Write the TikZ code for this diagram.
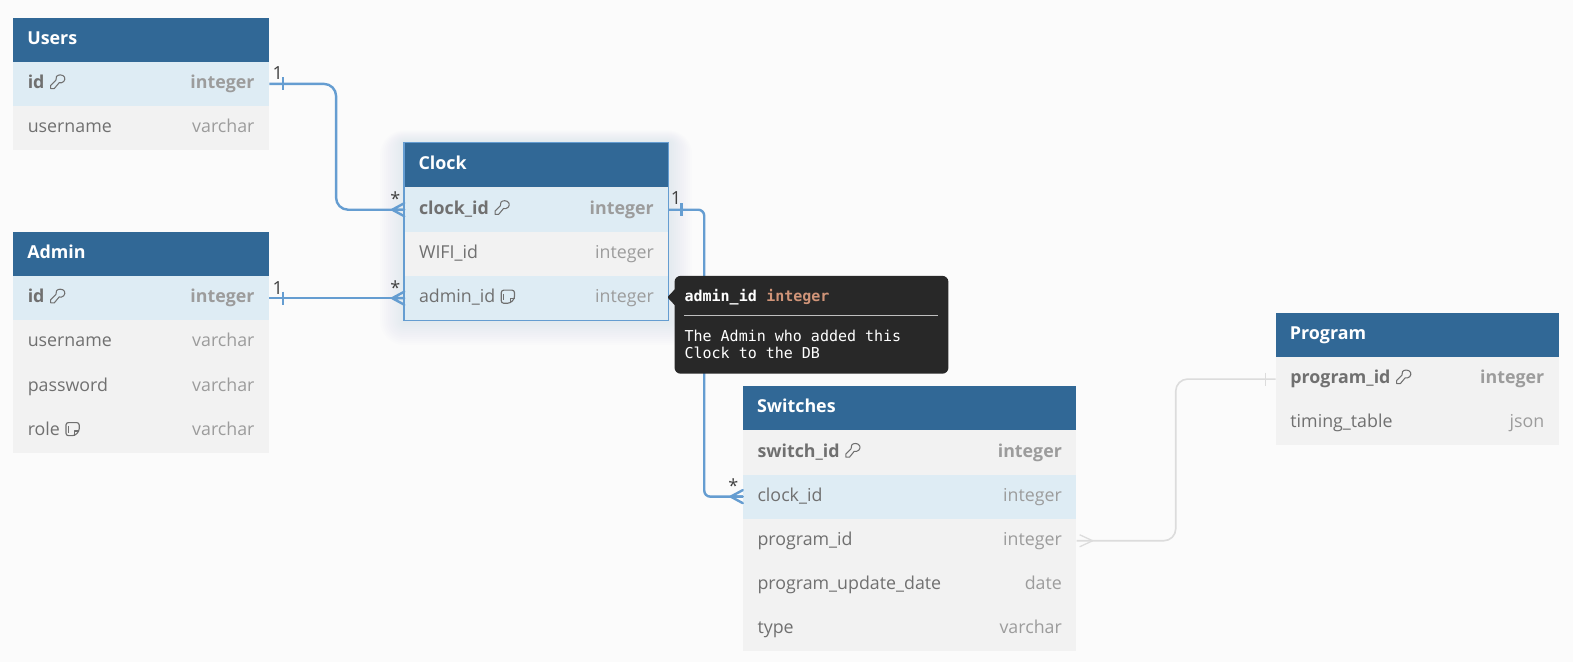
\documentclass[tikz,border=0pt]{standalone}
\usepackage{fontspec}
\setmainfont{Open Sans}
\newfontfamily\tipfont{DejaVu Sans Mono}
\definecolor{pagebg}{HTML}{FBFBFB}
\definecolor{headblue}{HTML}{316896}
\definecolor{rowgrey}{HTML}{F2F2F2}
\definecolor{rowhl}{HTML}{DEECF4}
\definecolor{nametxt}{HTML}{707070}
\definecolor{typetxt}{HTML}{9C9C9C}
\definecolor{linkblue}{HTML}{659DD1}
\definecolor{linkgrey}{HTML}{DCDCDC}
\definecolor{tipbg}{HTML}{282828}
\definecolor{tiptype}{HTML}{D09478}
\tikzset{
  x=1pt,y=-1pt,
  headcell/.style={fill=headblue,draw=none,inner sep=0pt,minimum height=44.2pt,anchor=north west},
  rowcell/.style={draw=none,inner sep=0pt,minimum height=44.1pt,anchor=north west},
  headtext/.style={text=white,inner sep=0pt,anchor=base west,font=\fontsize{17.8}{20}\selectfont\bfseries},
  nametext/.style={text=nametxt,inner sep=0pt,anchor=base west},
  typetext/.style={text=typetxt,inner sep=0pt,anchor=base east},
  plainrow/.style={font=\fontsize{17.75}{20}\selectfont},
  boldrow/.style={font=\fontsize{17.75}{20}\selectfont\bfseries},
  link/.style={draw=linkblue,line width=2.4pt,rounded corners=12pt},
  linksmall/.style={draw=linkblue,line width=2.4pt,rounded corners=6pt},
  linkpale/.style={draw=linkgrey,line width=1.6pt,rounded corners=12pt},
  card/.style={text=black!75,inner sep=0pt,font=\fontsize{18}{20}\selectfont},
  tipmono/.style={inner sep=0pt,anchor=base west,font=\fontsize{14.95}{18}\selectfont\tipfont},
  keyicon/.pic={
    \draw[nametxt,line width=1.05pt,line join=round]
      (10.5,-7.6) .. controls (14.8,-7.6) and (16.4,-3.6) .. (14,-1)
      .. controls (12.6,.4) and (10.8,.6) .. (9.4,.2)
      -- (4.6,6) -- (1,6) -- (1,2.8) -- (6.2,-2.4)
      .. controls (5.4,-5.2) and (7.2,-7.6) .. (10.5,-7.6) -- cycle;
  },
  noteicon/.pic={
    \draw[nametxt,line width=1.15pt,line join=round,rounded corners=2.4pt]
      (.8,-6.6) -- (14,-6.6) -- (14,1.8) -- (9.6,6.4) -- (.8,6.4) -- cycle;
    \draw[nametxt,line width=1.1pt,line join=round]
      (14,1.8) -- (9.6,1.8) -- (9.6,6.4);
    \draw[nametxt,line width=1pt] (3.4,-3) -- (3.4,3.6);
  },
}
% id, left x, top y, width, title
\newcommand{\tabhead}[5]{%
  \node[headcell,minimum width=#4pt] (#1) at (#2,#3) {};
  \node[headtext] (#1T) at ([xshift=14pt,yshift=-4.5pt]#1.west) {#5};
}
% id, left x, top y, width, fill, row style, name, type
\newcommand{\tabrow}[8]{%
  \node[rowcell,fill=#5,minimum width=#4pt] (#1) at (#2,#3) {};
  \node[nametext,#6] (#1N) at ([xshift=14.5pt,yshift=-4.6pt]#1.west) {#7};
  \node[typetext,#6] (#1Y) at ([xshift=-14.5pt,yshift=-4.6pt]#1.east) {#8};
}
% crow's foot at the west side of a node
\newcommand{\crowwest}[2]{%
  \draw[#2,line cap=round]
    ([xshift=-12pt]#1.west) -- ([yshift=6.5pt]#1.west)
    ([xshift=-12pt]#1.west) -- (#1.west)
    ([xshift=-12pt]#1.west) -- ([yshift=-6.5pt]#1.west);
}
\begin{document}
\begin{tikzpicture}
\useasboundingbox (0,0) rectangle (1568,659.9);
\fill[pagebg] (0,0) rectangle (1568,659.9);

% glow round the selected table
\foreach \g in {2,4,...,24}{
  \fill[linkblue,opacity=.011,rounded corners=\g pt]
    (403-\g,142-\g/2) rectangle (666+\g,320+\g);
}

% Users
\tabhead{users}{13}{18}{255}{Users}
\tabrow{usersId}{13}{61.4}{255}{rowhl}{boldrow}{id}{integer}
\tabrow{usersName}{13}{105.5}{255}{rowgrey}{plainrow}{username}{varchar}
\pic at ([xshift=5pt,yshift=6pt]usersIdN.base east) {keyicon};

% Admin
\tabhead{admin}{13}{231}{255}{Admin}
\tabrow{adminId}{13}{275}{255}{rowhl}{boldrow}{id}{integer}
\tabrow{adminName}{13}{319}{255}{rowgrey}{plainrow}{username}{varchar}
\tabrow{adminPass}{13}{363}{255}{rowgrey}{plainrow}{password}{varchar}
\tabrow{adminRole}{13}{407}{255}{rowgrey}{plainrow}{role}{varchar}
\pic at ([xshift=5pt,yshift=6pt]adminIdN.base east) {keyicon};
\pic at ([xshift=5pt,yshift=6pt]adminRoleN.base east) {noteicon};

% Clock
\tabhead{clock}{403}{142}{263}{Clock}
\tabrow{clockId}{403}{186.8}{263}{rowhl}{boldrow}{clock\_id}{integer}
\tabrow{clockWifi}{403}{231}{263}{rowgrey}{plainrow}{WIFI\_id}{integer}
\tabrow{clockAdmin}{403}{275}{263}{rowhl}{plainrow}{admin\_id}{integer}
\pic at ([xshift=5pt,yshift=6pt]clockIdN.base east) {keyicon};
\pic at ([xshift=5pt,yshift=6pt]clockAdminN.base east) {noteicon};
\draw[linkblue,line width=1.8pt] (clock.north west) rectangle (clockAdmin.south east);

% Switches
\tabhead{sw}{740.4}{384.6}{332.4}{Switches}
\tabrow{swId}{740.4}{428.8}{332.4}{rowgrey}{boldrow}{switch\_id}{integer}
\tabrow{swClock}{740.4}{472.8}{332.4}{rowhl}{plainrow}{clock\_id}{integer}
\tabrow{swProg}{740.4}{516.8}{332.4}{rowgrey}{plainrow}{program\_id}{integer}
\tabrow{swDate}{740.4}{560.8}{332.4}{rowgrey}{plainrow}{program\_update\_date}{date}
\tabrow{swType}{740.4}{604.8}{332.4}{rowgrey}{plainrow}{type}{varchar}
\pic at ([xshift=5pt,yshift=6pt]swIdN.base east) {keyicon};

% Program
\tabhead{prog}{1271.6}{312}{282}{Program}
\tabrow{progId}{1271.6}{355.6}{282}{rowgrey}{boldrow}{program\_id}{integer}
\tabrow{progTable}{1271.6}{399.6}{282}{rowgrey}{plainrow}{timing\_table}{json}
\pic at ([xshift=5pt,yshift=6pt]progIdN.base east) {keyicon};

% bends of the connectors
\coordinate (bendA) at (335,84);
\coordinate (bendB) at (702,208);
\coordinate (bendC) at (1172,378);

% Users - Clock
\draw[link] (usersId.east) -- (usersId.east -| bendA) -- (clockId.west -| bendA) -- (clockId.west);
\draw[linkblue,line width=2.2pt] ([xshift=14pt,yshift=6.5pt]usersId.east) -- ([xshift=14pt,yshift=-6.5pt]usersId.east);
\crowwest{clockId}{linkblue,line width=2.4pt}
\node[card] (cardA) at (277,73) {1};
\node[card] (cardB) at (394,198.5) {*};

% Admin - Clock
\draw[link] (adminId.east) -- (clockAdmin.west);
\draw[linkblue,line width=2.2pt] ([xshift=14pt,yshift=6.5pt]adminId.east) -- ([xshift=14pt,yshift=-6.5pt]adminId.east);
\crowwest{clockAdmin}{linkblue,line width=2.4pt}
\node[card] (cardC) at (277,287) {1};
\node[card] (cardD) at (394,287) {*};

% Clock - Switches
\draw[linksmall] (clockId.east) -- (clockId.east -| bendB) -- (swClock.west -| bendB) -- (swClock.west);
\draw[linkblue,line width=2.2pt] ([xshift=13pt,yshift=6.5pt]clockId.east) -- ([xshift=13pt,yshift=-6.5pt]clockId.east);
\crowwest{swClock}{linkblue,line width=2.4pt}
\node[card] (cardE) at (674,197) {1};
\node[card] (cardF) at (731,484) {*};

% Switches - Program
\coordinate (swFoot) at ([xshift=3pt]swProg.east);
\draw[linkpale] (swProg.east) -- (swProg.east -| bendC) -- (progId.west -| bendC) -- (progId.west);
\draw[linkgrey,line width=1.3pt]
  ([xshift=13pt]swFoot) -- ([yshift=6pt]swFoot)
  ([xshift=13pt]swFoot) -- ([yshift=-6pt]swFoot);
\draw[linkgrey,line width=1.3pt] ([xshift=-10pt,yshift=6.5pt]progId.west) -- ([xshift=-10pt,yshift=-6.5pt]progId.west);

% Tooltip
\node[fill=tipbg,rounded corners=6pt,inner sep=0pt,minimum width=273pt,minimum height=97.5pt,anchor=north west] (tip) at (672.2,274.8) {};
\fill[tipbg,rounded corners=1pt] ([xshift=1pt,yshift=-13pt]tip.north west) -- ([xshift=-7pt,yshift=-21.5pt]tip.north west) -- ([xshift=1pt,yshift=-30pt]tip.north west) -- cycle;
\node[tipmono,text=white,font=\fontsize{14.95}{18}\selectfont\tipfont\bfseries] (tipName) at ([xshift=10pt,yshift=-25.5pt]tip.north west) {admin\_id};
\node[tipmono,text=tiptype,font=\fontsize{14.95}{18}\selectfont\tipfont\bfseries] (tipType) at ([xshift=9pt]tipName.base east) {integer};
\coordinate (ruleL) at ([xshift=10pt,yshift=-40pt]tip.north west);
\coordinate (ruleR) at ([xshift=-11pt,yshift=-40pt]tip.north east);
\draw[white!75!black,line width=1.1pt] (ruleL) -- (ruleR);
\node[tipmono,text=white] (tipLineA) at ([xshift=10pt,yshift=-65.5pt]tip.north west) {The Admin who added this};
\node[tipmono,text=white] (tipLineB) at ([xshift=10pt,yshift=-83pt]tip.north west) {Clock to the DB};
\end{tikzpicture}
\end{document}
